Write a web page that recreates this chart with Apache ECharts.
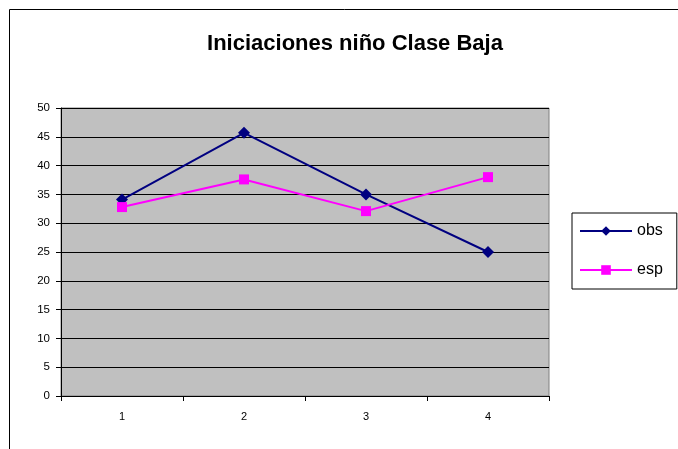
<!DOCTYPE html>
<html>
<head>
<meta charset="utf-8">
<script src="https://cdn.jsdelivr.net/npm/echarts@6.0.0/dist/echarts.min.js"></script>
<style>
  html, body { margin: 0; padding: 0; background: #fff; }
  #chart { width: 678px; height: 449px; }
</style>
</head>
<body>
<div id="chart"></div>
<script>
// data
const categories = ['1', '2', '3', '4'];
const obs = [34.1, 45.7, 35.0, 25.0];
const esp = [32.8, 37.6, 32.1, 38.0];

const chart = echarts.init(document.getElementById('chart'));

chart.setOption({
  animation: false,
  textStyle: { fontFamily: 'Liberation Sans, Arial, sans-serif' },
  title: {
    text: 'Iniciaciones niño Clase Baja',
    left: 350,
    textAlign: 'center',
    top: 28,
    textStyle: { fontSize: 22, fontWeight: 'bold', color: '#000' }
  },
  graphic: [{
    type: 'rect',
    shape: { x: 9.5, y: 9.5, width: 720, height: 500 },
    style: { fill: 'none', stroke: '#000', lineWidth: 1 },
    z: -1
  }],
  legend: {
    orient: 'vertical',
    left: 572,
    top: 213,
    width: 110,
    padding: [10, 14, 11, 7],
    itemGap: 23,
    itemWidth: 52,
    itemHeight: 12,
    backgroundColor: '#fff',
    borderColor: '#000',
    borderWidth: 1,
    borderRadius: 0,
    textStyle: { fontSize: 16, color: '#000' },
    data: ['obs', 'esp']
  },
  grid: {
    left: 61, top: 108, width: 488, height: 288,
    show: true,
    backgroundColor: '#C0C0C0',
    borderColor: '#808080',
    borderWidth: 1
  },
  xAxis: {
    type: 'category',
    data: categories,
    boundaryGap: true,
    axisLine: { lineStyle: { color: '#000', width: 1 } },
    axisTick: { show: true, alignWithLabel: false, length: 5, lineStyle: { color: '#000' } },
    axisLabel: { color: '#000', fontSize: 11, margin: 15 },
    splitLine: { show: false }
  },
  yAxis: {
    type: 'value',
    min: 0,
    max: 50,
    interval: 5,
    axisLine: { show: true, lineStyle: { color: '#000', width: 1 } },
    axisTick: { show: true, length: 5, lineStyle: { color: '#000' } },
    axisLabel: { color: '#000', fontSize: 11.5, margin: 11 },
    splitLine: { show: true, lineStyle: { color: '#000', width: 1 } }
  },
  series: [
    {
      name: 'obs',
      type: 'line',
      data: obs,
      symbol: 'diamond',
      symbolSize: 12,
      itemStyle: { color: '#000080' },
      lineStyle: { color: '#000080', width: 2 }
    },
    {
      name: 'esp',
      type: 'line',
      data: esp,
      symbol: 'rect',
      symbolSize: 10,
      itemStyle: { color: '#FF00FF' },
      lineStyle: { color: '#FF00FF', width: 2 }
    }
  ]
});
</script>
</body>
</html>
